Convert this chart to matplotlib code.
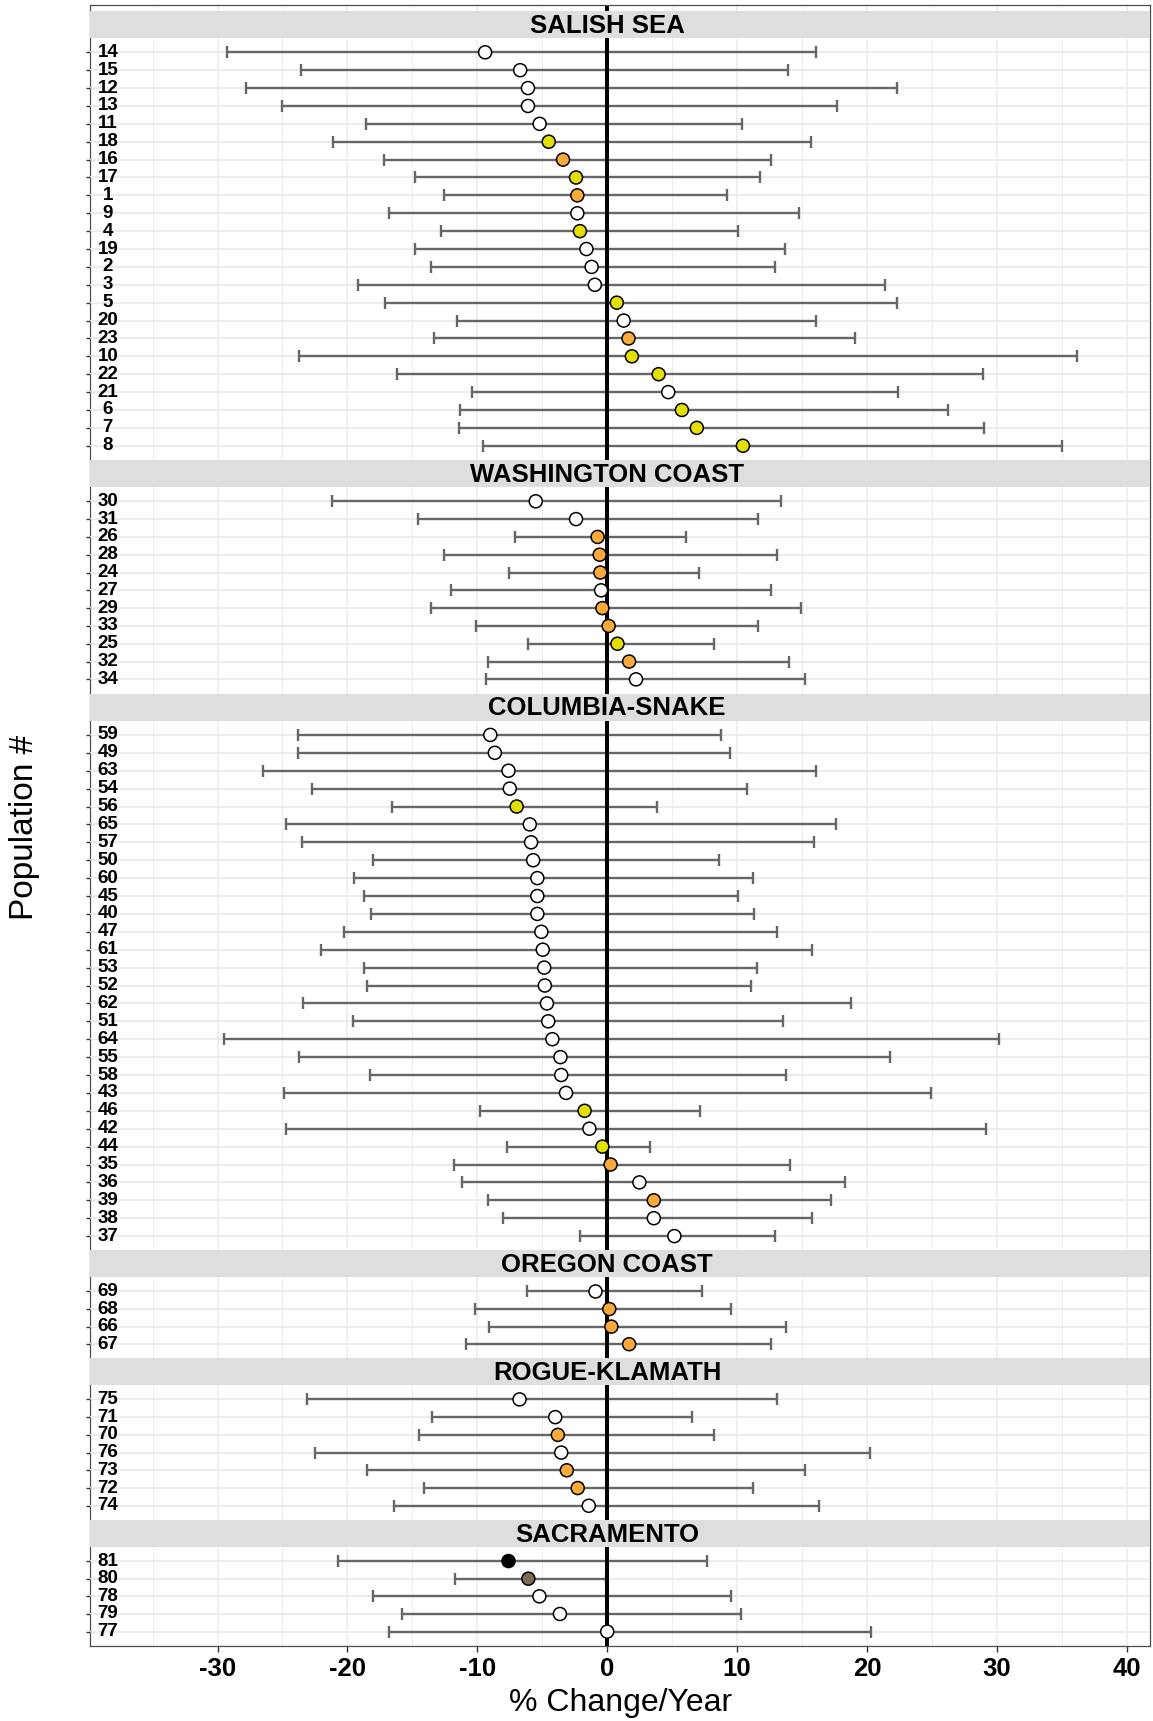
import matplotlib.pyplot as plt
import numpy as np

plt.rcParams['font.family'] = ['Liberation Sans', 'DejaVu Sans']
plt.rcParams['axes.unicode_minus'] = False

# ---- data (top row first in every panel) ----
regions = ['SALISH SEA', 'WASHINGTON COAST', 'COLUMBIA-SNAKE',
           'OREGON COAST', 'ROGUE-KLAMATH', 'SACRAMENTO']

salish_pop = ['14', '15', '12', '13', '11', '18', '16', '17', '1', '9', '4', '19',
              '2', '3', '5', '20', '23', '10', '22', '21', '6', '7', '8']
salish_est = [-9.4, -6.7, -6.1, -6.1, -5.2, -4.5, -3.4, -2.4, -2.3, -2.3, -2.1, -1.6,
              -1.2, -0.95, 0.74, 1.27, 1.64, 1.9, 3.96, 4.7, 5.75, 6.9, 10.45]
salish_lo = [-29.3, -23.6, -27.8, -25.0, -18.6, -21.1, -17.2, -14.8, -12.6, -16.8, -12.8, -14.8,
             -13.6, -19.2, -17.1, -11.6, -13.3, -23.7, -16.2, -10.4, -11.3, -11.4, -9.6]
salish_hi = [16.1, 13.9, 22.3, 17.7, 10.4, 15.7, 12.6, 11.8, 9.2, 14.8, 10.1, 13.7,
             12.9, 21.4, 22.3, 16.1, 19.1, 36.2, 28.9, 22.4, 26.2, 29.0, 35.0]
salish_status = ['w', 'w', 'w', 'w', 'w', 'y', 'o', 'y', 'o', 'w', 'y', 'w',
                 'w', 'w', 'y', 'w', 'o', 'y', 'y', 'w', 'y', 'y', 'y']

wash_pop = ['30', '31', '26', '28', '24', '27', '29', '33', '25', '32', '34']
wash_est = [-5.5, -2.4, -0.74, -0.58, -0.53, -0.47, -0.37, 0.11, 0.79, 1.69, 2.22]
wash_lo = [-21.2, -14.6, -7.1, -12.6, -7.55, -12.0, -13.6, -10.1, -6.1, -9.2, -9.3]
wash_hi = [13.4, 11.6, 6.1, 13.1, 7.1, 12.6, 14.9, 11.6, 8.2, 14.0, 15.25]
wash_status = ['w', 'w', 'o', 'o', 'o', 'w', 'o', 'o', 'y', 'o', 'w']

col_pop = ['59', '49', '63', '54', '56', '65', '57', '50', '60', '45', '40', '47', '61', '53',
           '52', '62', '51', '64', '55', '58', '43', '46', '42', '44', '35', '36', '39', '38', '37']
col_est = [-9.0, -8.65, -7.6, -7.5, -6.97, -5.96, -5.86, -5.7, -5.38, -5.38, -5.38, -5.07, -4.96,
           -4.85, -4.8, -4.64, -4.54, -4.22, -3.6, -3.54, -3.17, -1.74, -1.37, -0.37, 0.26,
           2.48, 3.59, 3.59, 5.17]
col_lo = [-23.8, -23.8, -26.5, -22.7, -16.6, -24.7, -23.5, -18.0, -19.5, -18.7, -18.2, -20.3,
          -22.0, -18.7, -18.5, -23.4, -19.6, -29.5, -23.7, -18.3, -24.9, -9.8, -24.7, -7.7,
          -11.8, -11.2, -9.2, -8.0, -2.06]
col_hi = [8.76, 9.45, 16.1, 10.8, 3.85, 17.6, 15.9, 8.6, 11.2, 10.1, 11.3, 13.1, 15.8, 11.5,
          11.1, 18.8, 13.5, 30.2, 21.8, 13.8, 24.9, 7.12, 29.2, 3.27, 14.1, 18.3, 17.2, 15.8, 12.9]
col_status = ['w', 'w', 'w', 'w', 'y', 'w', 'w', 'w', 'w', 'w', 'w', 'w', 'w', 'w',
              'w', 'w', 'w', 'w', 'w', 'w', 'w', 'y', 'w', 'y', 'o', 'w', 'o', 'w', 'w']

oregon_pop = ['69', '68', '66', '67']
oregon_est = [-0.9, 0.16, 0.32, 1.69]
oregon_lo = [-6.2, -10.2, -9.1, -10.9]
oregon_hi = [7.3, 9.5, 13.8, 12.6]
oregon_status = ['w', 'o', 'o', 'o']

rogue_pop = ['75', '71', '70', '76', '73', '72', '74']
rogue_est = [-6.75, -4.0, -3.8, -3.54, -3.11, -2.27, -1.42]
rogue_lo = [-23.1, -13.5, -14.5, -22.5, -18.5, -14.1, -16.4]
rogue_hi = [13.1, 6.5, 8.2, 20.2, 15.2, 11.2, 16.3]
rogue_status = ['w', 'w', 'o', 'w', 'o', 'o', 'w']

sac_pop = ['81', '80', '78', '79', '77']
sac_est = [-7.6, -6.07, -5.22, -3.64, 0.0]
sac_lo = [-20.7, -11.7, -18.0, -15.8, -16.8]
sac_hi = [7.65, -0.1, 9.5, 10.3, 20.3]
sac_status = ['k', 'b', 'w', 'w', 'w']

panels = [
    (salish_pop, salish_est, salish_lo, salish_hi, salish_status),
    (wash_pop, wash_est, wash_lo, wash_hi, wash_status),
    (col_pop, col_est, col_lo, col_hi, col_status),
    (oregon_pop, oregon_est, oregon_lo, oregon_hi, oregon_status),
    (rogue_pop, rogue_est, rogue_lo, rogue_hi, rogue_status),
    (sac_pop, sac_est, sac_lo, sac_hi, sac_status),
]

fill = {'w': '#FFFFFF', 'y': '#E3DF00', 'o': '#F9AA3A', 'k': '#000000', 'b': '#7B6B52'}

# ---- layout in pixels ----
W, H = 1153, 1721
LEFT, RIGHT = 89.6, 1150.0
TOP = 5.0
STRIP_H = 27.0
UNIT = 17.96
XLIM = (-39.85, 41.79)
GRID = '#EBEBEB'


def box(l, t, r, b):
    return [l / W, 1 - b / H, (r - l) / W, (b - t) / H]


fig = plt.figure(figsize=(W / 100, H / 100), dpi=100)

total_h = 6 + len(panels) * STRIP_H + sum((len(p[0]) + 0.5) * UNIT for p in panels)
BOTTOM = TOP + total_h

# background axes: vertical grid, outer border, x axis
bg = fig.add_axes(box(LEFT, TOP, RIGHT, BOTTOM))
bg.set_xlim(*XLIM)
bg.set_ylim(0, 1)
bg.set_yticks([])
bg.set_xticks(np.arange(-30, 41, 10))
bg.set_xticks(np.arange(-35, 41, 10), minor=True)
bg.grid(True, axis='x', which='major', color=GRID, lw=1.1)
bg.grid(True, axis='x', which='minor', color=GRID, lw=0.6)
bg.axvline(0, color='black', lw=2.8, zorder=3)
bg.tick_params(axis='x', which='major', length=4, width=1, color='#333333',
               labelsize=18.5, pad=4)
bg.tick_params(axis='x', which='minor', length=0)
for lab in bg.get_xticklabels():
    lab.set_fontweight('bold')
for s in bg.spines.values():
    s.set_color('#4D4D4D')
    s.set_linewidth(0.9)
    s.set_zorder(10)

y = TOP + 6
for name, (pop, est, lo, hi, status) in zip(regions, panels):
    n = len(pop)
    # strip
    st = fig.add_axes(box(LEFT + 0.5, y, RIGHT - 0.5, y + STRIP_H))
    st.set_facecolor('#DEDEDE')
    st.set_xticks([])
    st.set_yticks([])
    for s in st.spines.values():
        s.set_visible(False)
    st.text(0.488, 0.45, name, transform=st.transAxes, ha='center', va='center',
            fontsize=18.5, fontweight='bold', color='black')
    y += STRIP_H

    # panel
    ph = (n + 0.5) * UNIT
    ax = fig.add_axes(box(LEFT, y, RIGHT, y + ph))
    ax.patch.set_alpha(0)
    ax.set_xlim(*XLIM)
    ax.set_ylim(n - 0.2, -0.8)
    for s in ax.spines.values():
        s.set_visible(False)
    rows = np.arange(n)
    for r in rows:
        ax.axhline(r, color=GRID, lw=1.3, zorder=0)
    est = np.array(est)
    lo = np.array(lo)
    hi = np.array(hi)
    ax.errorbar(est, rows, xerr=[est - lo, hi - est], fmt='none', ecolor='#666666',
                elinewidth=1.7, capsize=4, capthick=1.7, zorder=2)
    ax.axvline(0, color='black', lw=2.8, zorder=3)
    ax.scatter(est, rows, s=88, c=[fill[c] for c in status], edgecolors='black',
               linewidths=1.1, zorder=4)
    ax.set_xticks([])
    ax.set_yticks(rows)
    ax.set_yticklabels([])
    ax.tick_params(axis='y', length=3, width=1, color='#333333')
    # population labels sit just inside the border
    for r, p in zip(rows, pop):
        ax.annotate(p, xy=(0, r), xycoords=('axes fraction', 'data'),
                    xytext=(13.2, 0), textcoords='offset points',
                    ha='center', va='center', fontsize=13.5, fontweight='bold',
                    color='black', zorder=5)
    y += ph

fig.text(620.6 / W, 1 - 1703 / H, '% Change/Year', ha='center', va='center', fontsize=23)
fig.text(25 / W, 1 - 827 / H, 'Population #', ha='center', va='center',
         rotation=90, fontsize=24)

fig.savefig('out.png', dpi=100)
